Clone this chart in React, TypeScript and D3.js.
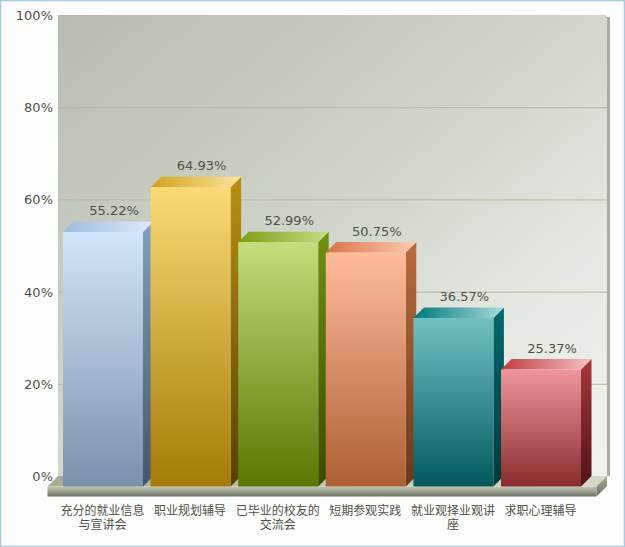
import React from "react";
import * as d3 from "d3";

const categories = [
  ["充分的就业信息", "与宣讲会"],
  ["职业规划辅导"],
  ["已毕业的校友的", "交流会"],
  ["短期参观实践"],
  ["就业观择业观讲", "座"],
  ["求职心理辅导"],
];
const values = [55.22, 64.93, 52.99, 50.75, 36.57, 25.37];
const ticks = [0, 20, 40, 60, 80, 100];
const frontTop = ["#d0e6fa", "#fbda76", "#c3de7c", "#ffbc9a", "#70c2c2", "#ee969b"];
const frontBottom = ["#7a92a9", "#a57b06", "#5b7600", "#ae5f35", "#02595b", "#8a2c2e"];
const sideTop = ["#84a0bc", "#ba9012", "#70900f", "#bb6c3e", "#006a6c", "#a5383a"];
const sideBottom = ["#42566a", "#584004", "#394b00", "#6a391d", "#00393b", "#4f1417"];
const topLeft = ["#9dbbdb", "#d4a31c", "#7c9e0e", "#d6744a", "#00787a", "#be3e42"];
const topRight = ["#dceafa", "#fce49e", "#c4dc88", "#ffcbb0", "#aadada", "#f6c0c4"];

const W = 625, H = 547;
const wallL = 58, wallR = 607, wallT = 15, wallB = 476;
const depth = 10.5;
const textColor = "#4f5346";

export default function App() {
  const y = d3.scaleLinear().domain([0, 100]).range([wallB, wallT]);
  const x = d3.scaleBand<number>()
    .domain(values.map((_, i) => i))
    .range([wallL - depth, wallR - depth])
    .paddingInner(0.0868)
    .paddingOuter(0.177);
  const bw = x.bandwidth();
  const floorL = wallL - depth, floorR = wallR - depth, floorF = wallB + depth;
  return (
    <svg width={W} height={H} style={{ position: "absolute", left: 0, top: 0, display: "block" }}>
      <defs>
        <linearGradient id="wall" x1="0" y1="0" x2="1" y2="1">
          <stop offset="0" stopColor="#b7bcb0" />
          <stop offset="0.5" stopColor="#d2d6cc" />
          <stop offset="0.75" stopColor="#e6e9e3" />
          <stop offset="1" stopColor="#f0f2ed" />
        </linearGradient>
        <linearGradient id="floorF" x1="0" y1="0" x2="0" y2="1">
          <stop offset="0" stopColor="#c3c8b4" />
          <stop offset="1" stopColor="#70756a" />
        </linearGradient>
        <linearGradient id="floorT" x1="0" y1="0" x2="1" y2="0">
          <stop offset="0" stopColor="#a6ab99" />
          <stop offset="1" stopColor="#d4d8c8" />
        </linearGradient>
        <linearGradient id="floorS" x1="0" y1="0" x2="0" y2="1">
          <stop offset="0" stopColor="#a8ad98" />
          <stop offset="1" stopColor="#6a6f60" />
        </linearGradient>
        {values.map((_, i) => (
          <React.Fragment key={i}>
            <linearGradient id={`f${i}`} x1="0" y1="0" x2="0" y2="1">
              <stop offset="0" stopColor={frontTop[i]} />
              <stop offset="1" stopColor={frontBottom[i]} />
            </linearGradient>
            <linearGradient id={`s${i}`} x1="0" y1="0" x2="0" y2="1">
              <stop offset="0" stopColor={sideTop[i]} />
              <stop offset="1" stopColor={sideBottom[i]} />
            </linearGradient>
            <linearGradient id={`t${i}`} x1="0" y1="0" x2="1" y2="0">
              <stop offset="0" stopColor={topLeft[i]} />
              <stop offset="1" stopColor={topRight[i]} />
            </linearGradient>
          </React.Fragment>
        ))}
      </defs>
      <rect x={0.5} y={0.5} width={W - 1} height={H - 1} fill="#fdfdfd" stroke="#a3cbe6" strokeWidth={1.5} />

      <rect x={wallR} y={wallT + 2} width={3} height={wallB - wallT - 2} fill="#a9ad9f" />
      <rect x={wallL} y={wallT} width={wallR - wallL} height={wallB - wallT} fill="url(#wall)" />
      {ticks.map((t) => (
        <g key={t}>
          {t > 0 && t < 100 && (
            <line x1={wallL} x2={wallR} y1={y(t) + 0.5} y2={y(t) + 0.5} stroke="#b2bc9c" strokeWidth={1} />
          )}
          <text x={53} y={y(t) + 5} textAnchor="end" fontFamily="'DejaVu Sans', Verdana, sans-serif" fontSize={13} fill={textColor}>
            {t}%
          </text>
        </g>
      ))}

      <polygon points={`${floorL},${floorF} ${wallL},${wallB} ${wallR},${wallB} ${floorR},${floorF}`} fill="url(#floorT)" />
      <polygon points={`${floorR},${floorF} ${wallR},${wallB} ${wallR},${wallB + 10} ${floorR},${floorF + 10}`} fill="url(#floorS)" />
      <rect x={floorL} y={floorF} width={floorR - floorL} height={10} fill="url(#floorF)" />

      {values.map((v, i) => {
        const x0 = x(i)!;
        const top = y(v) + depth;
        const x1 = x0 + bw;
        return (
          <g key={i}>
            <polygon points={`${x1},${top} ${x1 + depth},${top - depth} ${x1 + depth},${floorF - depth} ${x1},${floorF}`} fill={`url(#s${i})`} />
            <polygon points={`${x0},${top} ${x0 + depth},${top - depth} ${x1 + depth},${top - depth} ${x1},${top}`} fill={`url(#t${i})`} />
            <rect x={x0} y={top} width={bw} height={floorF - top} fill={`url(#f${i})`} />
            <text x={x0 + bw / 2 + 11} y={top - 17} textAnchor="middle" fontFamily="'DejaVu Sans', Verdana, sans-serif" fontSize={13} fill={textColor}>
              {v.toFixed(2)}%
            </text>
            <text textAnchor="middle" fontFamily="'Noto Sans CJK SC', sans-serif" fontSize={12} fill={textColor}>
              {categories[i].map((line, k) => (
                <tspan key={k} x={x0 + bw / 2 - 0.5} y={515 + k * 14}>
                  {line}
                </tspan>
              ))}
            </text>
          </g>
        );
      })}
    </svg>
  );
}
